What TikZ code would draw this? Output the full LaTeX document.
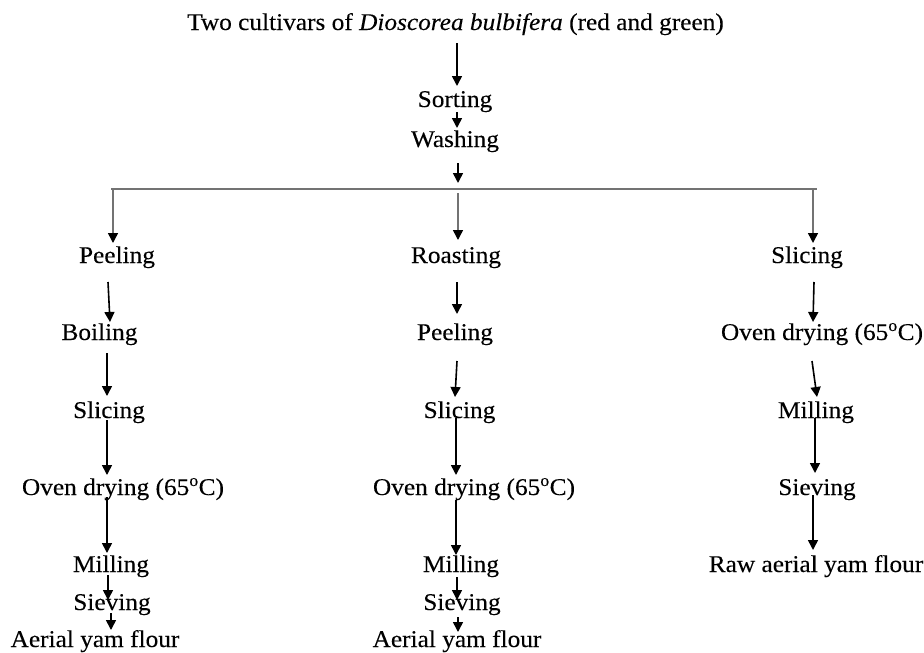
\documentclass[tikz,border=0pt]{standalone}
\usepackage{fontspec}
\setmainfont{Liberation Serif}[FakeStretch=1.055,FakeBold=0.15]
\usetikzlibrary{arrows.meta}
\begin{document}
\begin{tikzpicture}[x=1pt,y=-1pt,
  lbl/.style={anchor=base,inner sep=0pt,font=\fontsize{24}{28}\selectfont},
  arr/.style={line width=1.6pt,-{Triangle[width=10pt,length=10pt]}},
  drop/.style={line width=1.5pt,draw=black!55,-{Triangle[width=10pt,length=10pt,color=black]}},
  bar/.style={line width=1.6pt,draw=black!55}]
\useasboundingbox[fill=white] (0,0) rectangle (924,653);
% top
\node[lbl] (t) at (455.5,30) {Two cultivars of \textit{Dioscorea bulbifera} (red and green)};
\node[lbl] (so) at (455,107) {Sorting};
\node[lbl] (wa) at (455,147) {Washing};
\coordinate (barL) at (111,189);
\coordinate (barR) at (817,189);
\coordinate (jc) at (458,189);
% left column
\node[lbl] (L1) at (117,263) {Peeling};
\node[lbl] (L2) at (99.5,340) {Boiling};
\node[lbl] (L3) at (109,418) {Slicing};
\node[lbl] (L4) at (123,495) {Oven drying (65\textsuperscript{o}C)};
\node[lbl] (L5) at (111,572) {Milling};
\node[lbl] (L6) at (112,610) {Sieving};
\node[lbl] (L7) at (95,647) {Aerial yam flour};
% middle column
\node[lbl] (M1) at (456,263) {Roasting};
\node[lbl] (M2) at (455,340) {Peeling};
\node[lbl] (M3) at (459.5,418) {Slicing};
\node[lbl] (M4) at (474,495) {Oven drying (65\textsuperscript{o}C)};
\node[lbl] (M5) at (461,572) {Milling};
\node[lbl] (M6) at (462,610) {Sieving};
\node[lbl] (M7) at (457,647) {Aerial yam flour};
% right column
\node[lbl] (R1) at (807,263) {Slicing};
\node[lbl] (R2) at (822,340) {Oven drying (65\textsuperscript{o}C)};
\node[lbl] (R3) at (816,418) {Milling};
\node[lbl] (R4) at (817,495) {Sieving};
\node[lbl] (R5) at (816,572) {Raw aerial yam flour};
% top connectors
\draw[arr] ([shift={(1.5,13)}]t.base) -- ([shift={(2,-21)}]so.base);
\draw[arr] ([shift={(2,5)}]so.base) -- ([shift={(2,-19)}]wa.base);
\draw[arr] ([shift={(3,16)}]wa.base) -- ([shift={(0,-6)}]jc);
\draw[bar] (barL) -- (barR);
\draw[drop] ([shift={(2,0)}]barL) -- ([shift={(-4,-20)}]L1.base);
\draw[drop] ([shift={(0,4)}]jc) -- ([shift={(2,-23)}]M1.base);
\draw[drop] ([shift={(-4,0)}]barR) -- ([shift={(6,-20)}]R1.base);
% left connectors
\draw[arr] ([shift={(-9,19)}]L1.base) -- ([shift={(10.5,-18)}]L2.base);
\draw[arr] ([shift={(7.5,13)}]L2.base) -- ([shift={(-2,-22)}]L3.base);
\draw[arr] ([shift={(-2,2)}]L3.base) -- ([shift={(-16,-20)}]L4.base);
\draw[arr] ([shift={(-16,2)}]L4.base) -- ([shift={(-4,-19)}]L5.base);
\draw[arr] ([shift={(-3,3)}]L5.base) -- ([shift={(-4,-10)}]L6.base);
\draw[arr] ([shift={(-1,3)}]L6.base) -- ([shift={(16,-17)}]L7.base);
% middle connectors
\draw[arr] ([shift={(1,19)}]M1.base) -- ([shift={(2,-26)}]M2.base);
\draw[arr] ([shift={(2,21)}]M2.base) -- ([shift={(-4.5,-21)}]M3.base);
\draw[arr] ([shift={(-3.5,0)}]M3.base) -- ([shift={(-18,-20)}]M4.base);
\draw[arr] ([shift={(-18,5)}]M4.base) -- ([shift={(-5,-17)}]M5.base);
\draw[arr] ([shift={(-4,5)}]M5.base) -- ([shift={(-5,-10)}]M6.base);
\draw[arr] ([shift={(-4,7)}]M6.base) -- ([shift={(1,-15)}]M7.base);
% right connectors
\draw[arr] ([shift={(7,19)}]R1.base) -- ([shift={(-9,-18)}]R2.base);
\draw[arr] ([shift={(-10,21)}]R2.base) -- ([shift={(1,-21)}]R3.base);
\draw[arr] ([shift={(-1,0)}]R3.base) -- ([shift={(-2,-22)}]R4.base);
\draw[arr] ([shift={(-4,0)}]R4.base) -- ([shift={(-3,-22)}]R5.base);
\end{tikzpicture}
\end{document}
